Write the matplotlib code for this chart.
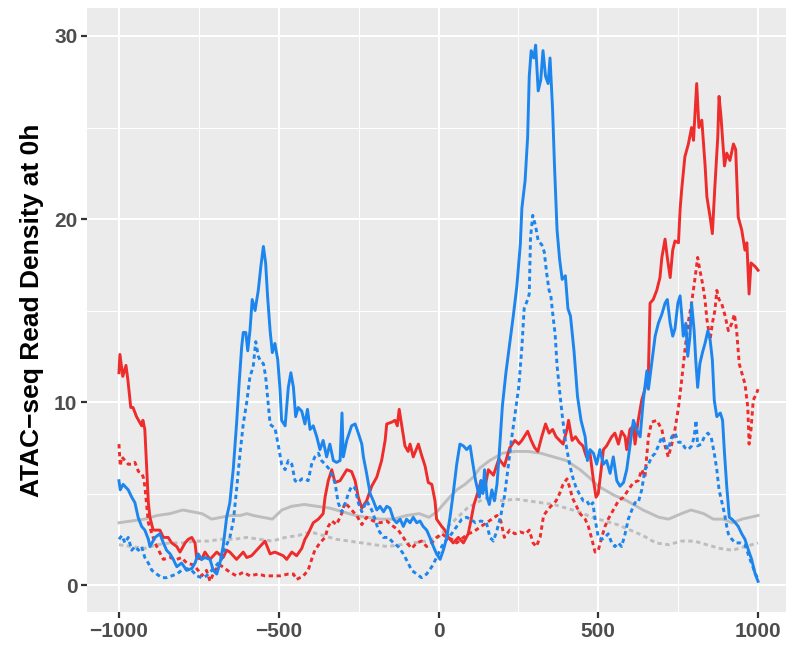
import matplotlib
matplotlib.use("Agg")
import matplotlib.pyplot as plt
from matplotlib.ticker import MultipleLocator

# ---------------- data ----------------
red_solid_x = [-1000, -997, -988, -978, -972, -963, -956, -945, -929, -925, -919, -913, -908, -903, -893,
               -872, -861, -846, -835, -819, -809, -793, -783, -772, -762, -757, -741, -731, -715, -694,
               -674, -663, -653, -632, -611, -600, -585, -564, -543, -527, -512, -486, -475, -459, -444,
               -428, -418, -408, -392, -376, -361, -355, -345, -334, -324, -308, -287, -272, -261, -251,
               -240, -225, -209, -193, -178, -167, -162, -146, -136, -129, -123, -115, -105, -95, -89,
               -79, -63, -53, -42, -32, -21, -11, -6, 10, 20, 31, 46, 62, 78, 93,
               100, 111, 122, 133, 144, 156, 172, 189, 206, 223, 239, 251, 261, 279, 290,
               301, 311, 323, 335, 346, 357, 368, 379, 390, 402, 407, 418, 429, 440, 452,
               463, 474, 485, 493, 500, 511, 516, 526, 542, 552, 563, 573, 584, 589, 599,
               610, 615, 625, 636, 646, 657, 662, 672, 683, 693, 699, 709, 716, 725, 733,
               740, 751, 756, 761, 771, 782, 792, 798, 808, 815, 824, 834, 840, 850, 857,
               865, 874, 878, 884, 895, 902, 912, 923, 930, 938, 949, 959, 965, 972, 978,
               991, 1000]
red_solid_y = [11.6, 12.6, 11.4, 12.0, 11.2, 9.7, 9.7, 9.2, 8.7, 9.0, 8.5, 6.3, 4.5, 3.7, 3.0,
               3.0, 2.6, 2.6, 2.3, 2.1, 1.8, 2.3, 2.5, 2.6, 2.3, 1.5, 1.4, 1.8, 1.4, 1.8,
               1.5, 1.9, 1.8, 1.4, 1.8, 1.5, 1.6, 2.0, 2.4, 1.7, 1.8, 1.6, 1.4, 1.8, 1.6,
               2.0, 2.5, 2.8, 3.4, 3.6, 3.9, 4.8, 5.7, 6.3, 5.6, 5.7, 6.3, 6.2, 5.7, 4.8,
               4.2, 4.6, 5.4, 5.9, 6.8, 7.9, 8.8, 8.9, 9.0, 8.7, 9.6, 8.7, 7.6, 7.3, 7.7,
               7.0, 7.7, 7.1, 6.5, 5.6, 5.5, 4.6, 3.6, 3.2, 3.0, 2.6, 2.3, 2.6, 2.3, 2.8,
               3.4, 4.4, 5.0, 5.7, 5.2, 6.3, 6.0, 6.9, 6.5, 7.5, 7.9, 7.7, 7.9, 8.4, 7.9,
               7.5, 7.3, 8.1, 8.8, 8.3, 8.5, 8.1, 7.9, 7.7, 8.5, 9.0, 7.9, 8.1, 7.8, 7.6,
               7.0, 7.2, 5.7, 4.8, 5.0, 6.6, 7.4, 7.6, 8.1, 8.3, 7.7, 8.4, 8.1, 7.4, 8.5,
               8.7, 7.7, 9.0, 10.1, 10.7, 11.7, 15.4, 15.6, 16.1, 16.8, 17.9, 18.9, 17.9, 16.8, 18.3,
               18.8, 18.7, 20.5, 21.6, 23.4, 24.1, 25.0, 24.3, 27.4, 25.0, 25.4, 23.0, 21.2, 20.1, 19.2,
               21.8, 24.5, 26.7, 25.6, 22.9, 23.6, 23.2, 24.1, 23.8, 20.1, 19.4, 18.3, 18.7, 15.9, 17.6,
               17.4, 17.2]

red_dot_x = [-1000, -996, -991, -981, -971, -960, -950, -939, -929, -924, -919, -913, -908, -897, -887,
             -876, -861, -840, -819, -804, -788, -767, -752, -741, -726, -715, -700, -684, -668, -653,
             -632, -611, -590, -564, -543, -517, -496, -470, -454, -444, -423, -408, -397, -387, -371,
             -355, -345, -334, -319, -303, -293, -282, -272, -256, -240, -225, -204, -183, -162, -141,
             -126, -110, -99, -84, -68, -53, -37, -21, -6, 10, 26, 41, 57, 78, 93,
             109, 133, 150, 167, 183, 195, 206, 223, 239, 256, 273, 284, 296, 306, 318,
             329, 346, 357, 368, 379, 390, 402, 413, 418, 429, 443, 459, 469, 480, 490,
             500, 511, 521, 531, 547, 563, 579, 594, 610, 625, 636, 646, 657, 667, 683,
             699, 709, 719, 730, 740, 751, 761, 771, 782, 792, 803, 811, 818, 826, 834,
             840, 850, 857, 865, 871, 878, 886, 897, 907, 918, 926, 933, 941, 949, 959,
             968, 972, 978, 985, 996, 1000]
red_dot_y = [7.7, 6.5, 7.0, 6.8, 6.6, 6.6, 6.7, 6.2, 6.1, 5.9, 5.4, 4.3, 3.4, 2.8, 2.3,
             1.9, 1.4, 1.5, 1.4, 1.5, 1.2, 1.1, 0.8, 0.5, 0.8, 0.2, 0.8, 1.1, 0.9, 0.7,
             0.5, 0.7, 0.5, 0.6, 0.5, 0.5, 0.5, 0.6, 0.6, 0.3, 0.5, 0.8, 1.4, 1.9, 2.3,
             2.6, 3.2, 3.5, 3.3, 3.9, 4.5, 4.3, 4.1, 3.8, 3.3, 3.7, 3.5, 3.4, 3.5, 3.2,
             3.0, 2.6, 2.3, 2.0, 2.3, 2.4, 2.1, 2.3, 2.6, 2.8, 2.6, 2.5, 2.3, 2.6, 2.8,
             2.9, 3.2, 3.4, 3.6, 3.8, 3.5, 2.6, 3.0, 2.8, 2.9, 2.8, 3.0, 2.3, 2.1, 2.6,
             3.8, 4.2, 4.4, 4.6, 5.0, 5.5, 5.8, 5.2, 4.8, 4.4, 3.9, 3.6, 3.2, 2.5, 1.8,
             1.9, 2.6, 3.2, 3.6, 4.1, 4.6, 4.8, 5.2, 5.6, 5.7, 6.3, 5.9, 8.1, 8.9, 9.0,
             8.5, 7.6, 7.0, 7.7, 8.5, 9.7, 11.2, 12.8, 14.4, 15.4, 16.8, 17.9, 17.2, 16.5, 15.6,
             14.5, 13.4, 14.3, 15.0, 16.1, 15.6, 15.4, 14.7, 13.9, 14.3, 14.8, 13.9, 12.1, 11.6, 11.0,
             9.7, 7.7, 8.5, 10.1, 10.5, 10.7]

blue_solid_x = [-1000, -996, -987, -971, -960, -950, -940, -929, -919, -908, -903, -887, -872, -861, -851,
                -840, -830, -819, -804, -788, -772, -762, -752, -741, -731, -715, -705, -694, -684, -674,
                -663, -653, -642, -632, -624, -616, -611, -603, -597, -590, -583, -574, -564, -556, -548,
                -541, -535, -527, -520, -512, -503, -496, -491, -480, -470, -462, -454, -447, -439, -428,
                -418, -410, -402, -392, -381, -371, -361, -350, -340, -329, -319, -308, -302, -298, -287,
                -272, -261, -251, -240, -235, -225, -214, -204, -193, -183, -172, -162, -152, -141, -131,
                -120, -110, -100, -89, -79, -68, -58, -48, -37, -27, -16, -6, 5, 15, 26,
                36, 46, 57, 67, 78, 88, 99, 105, 116, 128, 133, 139, 144, 152, 159,
                167, 175, 183, 189, 200, 211, 223, 234, 245, 256, 261, 271, 279, 284, 290,
                298, 304, 312, 320, 327, 335, 343, 349, 357, 363, 371, 379, 387, 397, 405,
                413, 424, 435, 446, 459, 466, 474, 485, 495, 505, 516, 526, 537, 547, 558,
                568, 579, 589, 599, 610, 620, 631, 641, 652, 657, 667, 678, 688, 699, 709,
                716, 725, 733, 740, 749, 756, 761, 766, 774, 780, 787, 792, 800, 805, 811,
                818, 826, 834, 843, 850, 857, 863, 871, 882, 889, 895, 902, 910, 918, 929,
                938, 949, 959, 970, 980, 991, 1000]
blue_solid_y = [5.7, 5.2, 5.5, 5.2, 4.8, 4.5, 3.7, 3.2, 3.0, 2.5, 2.1, 2.6, 2.8, 2.3, 1.9,
                1.7, 1.4, 1.0, 1.2, 0.8, 0.9, 1.2, 1.7, 1.4, 1.5, 1.4, 0.8, 0.6, 1.2, 2.1,
                3.7, 4.5, 6.4, 8.8, 11.0, 13.0, 13.8, 13.8, 12.8, 13.9, 15.6, 15.0, 16.1, 17.4, 18.5,
                17.6, 15.8, 13.9, 12.7, 13.2, 12.3, 10.7, 9.0, 8.7, 10.8, 11.6, 10.8, 9.2, 9.7, 9.5,
                8.8, 9.6, 8.5, 8.7, 8.1, 7.4, 7.9, 7.0, 7.7, 6.8, 6.7, 6.8, 9.4, 7.0, 7.9,
                8.7, 8.8, 8.3, 7.7, 7.0, 6.1, 5.0, 4.6, 4.1, 4.3, 4.0, 4.3, 4.2, 3.6, 3.4,
                3.6, 3.2, 3.6, 3.4, 3.7, 3.4, 3.5, 3.2, 3.0, 2.6, 2.1, 1.7, 1.4, 1.9, 2.6,
                3.7, 5.0, 6.6, 7.7, 7.6, 7.4, 7.6, 6.9, 5.7, 4.8, 5.7, 5.0, 6.3, 4.8, 4.4,
                5.2, 4.6, 5.5, 6.9, 9.8, 11.6, 13.2, 14.7, 16.3, 18.6, 20.6, 22.1, 24.5, 27.8, 29.2,
                28.8, 29.5, 27.0, 27.6, 29.2, 27.8, 27.4, 28.8, 26.0, 22.9, 19.4, 17.8, 16.7, 16.9, 15.1,
                14.7, 12.8, 10.3, 9.0, 8.1, 6.8, 7.4, 7.2, 6.6, 7.4, 6.6, 6.8, 6.1, 7.0, 5.7,
                5.4, 5.6, 6.3, 7.6, 9.0, 8.5, 8.1, 10.1, 11.7, 10.7, 12.1, 13.6, 14.3, 14.8, 15.4,
                15.6, 14.3, 13.6, 14.0, 15.4, 15.8, 14.8, 13.6, 14.3, 12.5, 13.6, 15.4, 13.9, 12.3, 10.8,
                12.1, 12.7, 13.2, 13.9, 13.4, 12.3, 10.1, 9.2, 9.4, 9.0, 7.2, 5.4, 3.7, 3.6, 3.4,
                3.2, 2.8, 2.5, 1.9, 1.4, 0.6, 0.2]

blue_dot_x = [-1000, -991, -981, -971, -960, -950, -939, -929, -919, -908, -897, -882, -866, -851, -835,
              -819, -804, -788, -772, -757, -741, -726, -710, -694, -679, -668, -653, -642, -632, -621,
              -611, -600, -590, -580, -572, -564, -556, -548, -541, -535, -527, -522, -512, -501, -491,
              -480, -470, -459, -449, -439, -428, -418, -408, -397, -387, -376, -366, -355, -340, -324,
              -314, -303, -293, -282, -272, -261, -251, -240, -225, -209, -199, -188, -172, -157, -141,
              -126, -110, -95, -84, -68, -53, -37, -21, -6, 10, 26, 41, 57, 73, 88,
              100, 116, 133, 150, 161, 172, 183, 195, 206, 217, 228, 239, 251, 261, 268,
              279, 284, 288, 295, 304, 312, 323, 331, 338, 346, 351, 357, 365, 371, 379,
              387, 397, 407, 418, 429, 440, 453, 464, 474, 483, 490, 500, 511, 521, 531,
              542, 552, 563, 573, 584, 594, 605, 615, 625, 636, 646, 657, 667, 678, 688,
              699, 709, 719, 730, 740, 751, 761, 771, 782, 792, 800, 806, 811, 822, 832,
              843, 853, 863, 871, 878, 886, 895, 902, 907, 918, 929, 944, 959, 975, 990,
              1000]
blue_dot_y = [2.5, 2.7, 2.3, 2.6, 1.9, 2.1, 1.9, 2.1, 1.5, 1.2, 0.8, 0.6, 0.4, 0.4, 0.5,
              0.6, 0.8, 0.9, 0.8, 0.5, 0.4, 0.5, 0.8, 1.1, 1.4, 2.0, 2.6, 3.5, 5.2, 7.2,
              8.8, 10.0, 11.4, 11.9, 13.3, 12.5, 12.2, 12.1, 11.4, 10.3, 8.8, 8.7, 8.6, 7.6, 6.6,
              6.3, 6.8, 6.6, 5.7, 5.6, 5.8, 5.8, 5.7, 6.6, 7.0, 7.2, 6.8, 6.6, 6.3, 5.6,
              4.5, 4.0, 4.4, 5.0, 5.4, 5.3, 4.5, 4.0, 4.6, 4.1, 3.6, 3.0, 2.6, 2.6, 2.3,
              2.1, 1.7, 1.2, 0.8, 0.6, 0.4, 0.6, 1.0, 1.5, 2.1, 2.5, 2.8, 3.2, 3.6, 3.7,
              3.6, 3.4, 3.5, 3.4, 2.6, 2.4, 3.0, 3.8, 4.8, 6.3, 7.9, 9.3, 10.8, 13.0, 15.1,
              15.6, 15.9, 19.0, 20.2, 19.6, 18.8, 18.6, 18.2, 17.1, 16.1, 15.9, 14.9, 13.7, 12.0, 10.6,
              9.3, 7.9, 6.9, 6.0, 5.4, 5.0, 4.6, 4.6, 4.3, 4.5, 3.6, 2.6, 2.5, 2.6, 2.8,
              2.3, 2.1, 2.3, 2.1, 2.8, 3.6, 4.1, 4.5, 4.5, 5.2, 6.3, 6.6, 7.0, 7.2, 7.6,
              8.1, 7.7, 7.4, 8.1, 8.3, 7.8, 7.8, 7.5, 7.4, 7.6, 8.1, 9.0, 7.6, 7.7, 8.1,
              8.3, 8.1, 7.2, 6.3, 5.2, 4.6, 3.9, 3.2, 2.8, 2.5, 2.3, 2.3, 2.2, 1.4, 0.7,
              0.3]

grey_solid_x = [-1000, -960, -920, -880, -840, -800, -770, -740, -710, -680, -650, -620, -600, -580, -550,
                -520, -490, -460, -420, -380, -340, -300, -260, -225, -180, -140, -100, -60, -30, -5,
                15, 35, 57, 83, 109, 130, 160, 200, 240, 280, 320, 360, 400, 443, 470,
                500, 550, 590, 640, 690, 720, 760, 790, 830, 860, 890, 920, 950, 975, 1000]
grey_solid_y = [3.4, 3.5, 3.6, 3.8, 3.9, 4.1, 4.0, 3.9, 3.6, 3.7, 3.8, 3.8, 3.9, 3.8, 3.7,
                3.6, 4.1, 4.3, 4.4, 4.3, 4.2, 4.0, 3.8, 3.7, 3.6, 3.6, 3.8, 3.9, 3.7, 4.0,
                4.4, 4.8, 5.2, 5.5, 5.9, 6.4, 6.8, 7.2, 7.3, 7.3, 7.2, 7.0, 6.8, 6.3, 5.9,
                5.4, 4.9, 4.6, 4.1, 3.7, 3.6, 3.9, 4.1, 3.9, 3.6, 3.6, 3.4, 3.6, 3.7, 3.8]

grey_dot_x = [-1000, -960, -920, -880, -840, -800, -760, -720, -680, -640, -600, -560, -520, -480, -440,
              -400, -360, -320, -280, -240, -200, -160, -120, -80, -40, 0, 30, 60, 90, 130,
              160, 200, 240, 280, 320, 360, 400, 440, 480, 520, 560, 600, 640, 680, 720,
              760, 800, 840, 880, 920, 960, 1000]
grey_dot_y = [2.2, 2.1, 2.0, 2.2, 2.3, 2.3, 2.4, 2.4, 2.5, 2.5, 2.6, 2.5, 2.4, 2.6, 2.7,
              2.9, 2.7, 2.5, 2.4, 2.3, 2.2, 2.1, 2.2, 2.3, 2.4, 2.6, 3.2, 3.7, 4.2, 4.6,
              4.8, 4.6, 4.7, 4.6, 4.5, 4.4, 4.2, 4.0, 3.7, 3.5, 3.3, 3.0, 2.7, 2.3, 2.2,
              2.4, 2.4, 2.2, 2.0, 1.9, 2.1, 2.3]

x_ticks = [-1000, -500, 0, 500, 1000]
y_ticks = [0, 10, 20, 30]
y_label = "ATAC\u2212seq Read Density at 0h"

# ---------------- styling ----------------
RED = "#EE2C2C"
BLUE = "#1C86EE"
GREY = "#BDBDBD"
DOT = (0, (1.5, 1.2))

plt.rcParams['font.family'] = ['Liberation Sans', 'DejaVu Sans']

fig = plt.figure(figsize=(7.86, 6.45), dpi=100)
ax = fig.add_axes([87 / 786, 33 / 645, 703 / 786, 604 / 645])
ax.set_facecolor("#EBEBEB")
for s in ax.spines.values():
    s.set_visible(False)

ax.set_xlim(-1100, 1100)
ax.set_ylim(-1.475, 31.53)
ax.set_xticks(x_ticks)
ax.set_xticklabels([str(v).replace("-", "\u2212") for v in x_ticks])
ax.set_yticks(y_ticks)
ax.set_yticklabels([str(v) for v in y_ticks])
ax.xaxis.set_minor_locator(MultipleLocator(250))
ax.yaxis.set_minor_locator(MultipleLocator(5))
ax.grid(which="major", color="white", lw=1.5)
ax.grid(which="minor", color="white", lw=0.75)
ax.set_axisbelow(True)
ax.tick_params(which="minor", length=0)
ax.tick_params(which="major", length=4, width=1.6, color="#333333",
               labelcolor="#4D4D4D", labelsize=15, pad=3)
for lab in ax.get_xticklabels() + ax.get_yticklabels():
    lab.set_fontweight("bold")

LW = 2.1
ax.plot(grey_dot_x, grey_dot_y, color=GREY, lw=2.1, ls=DOT)
ax.plot(grey_solid_x, grey_solid_y, color=GREY, lw=2.1)
ax.plot(red_dot_x, red_dot_y, color=RED, lw=LW, ls=DOT)
ax.plot(red_solid_x, red_solid_y, color=RED, lw=LW)
ax.plot(blue_dot_x, blue_dot_y, color=BLUE, lw=LW, ls=DOT)
ax.plot(blue_solid_x, blue_solid_y, color=BLUE, lw=LW)

ax.set_ylabel(y_label, fontsize=19, fontweight="bold", color="black")
ax.yaxis.set_label_coords(-0.061, 0.5)

fig.savefig("out.png", dpi=100)
